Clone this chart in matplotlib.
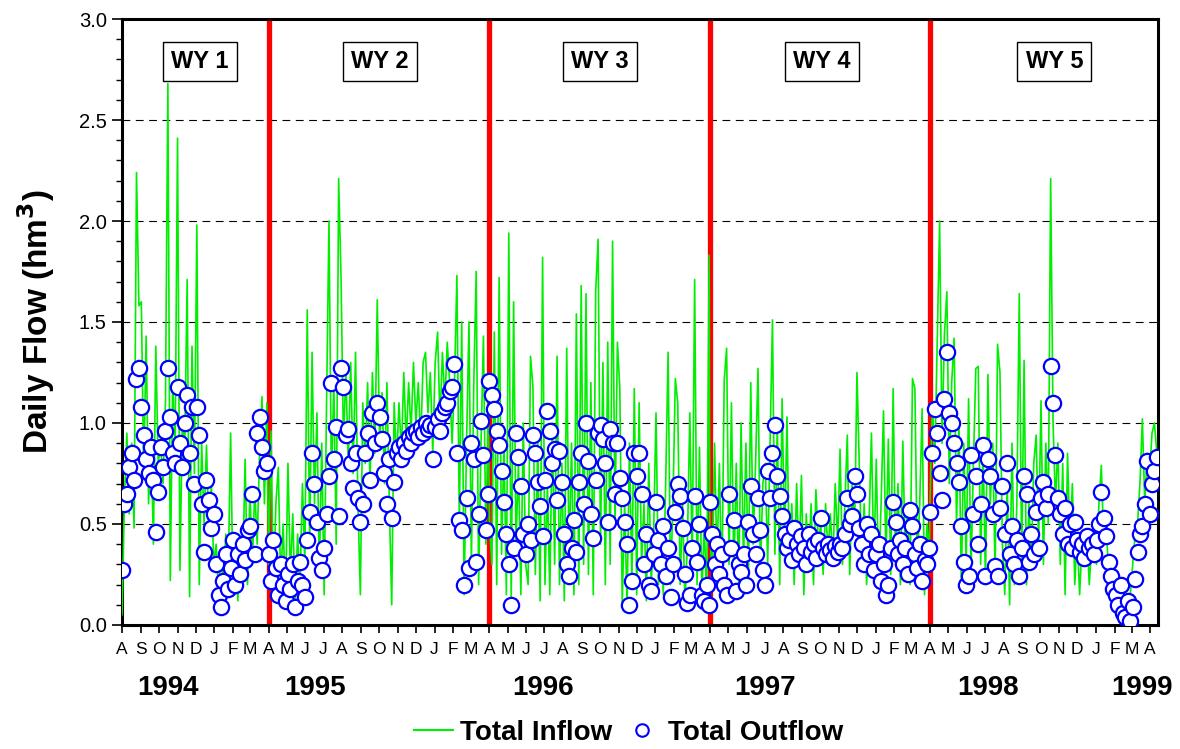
import matplotlib.pyplot as plt
import matplotlib.dates as mdates
from matplotlib.lines import Line2D
from matplotlib.ticker import MultipleLocator, FuncFormatter
import pandas as pd

plt.rcParams['font.family'] = ['Liberation Sans', 'DejaVu Sans']

# flows (hm3) sampled every 4 days, one list per water year
step_days = 4
wy_starts = ["1994-08-01", "1995-04-01", "1996-04-01", "1997-04-01", "1998-04-01"]

inflow_wy1 = [0.05, 0.62, 0.95, 0.55, 0.9, 0.48, 2.24, 1.58,
              1.6, 0.75, 1.43, 0.6, 0.95, 0.4, 1.38, 0.8,
              0.9, 0.7, 1.1, 2.68, 0.22, 1.2, 0.85,
              2.41, 0.27, 1.0, 0.9, 1.71, 0.14, 1.38, 0.75,
              1.98, 0.2, 0.9, 0.5, 0.89, 0.45, 0.7, 0.3,
              0.4, 0.15, 0.35, 0.2, 0.45, 0.25, 0.95,
              0.15, 0.3, 0.12, 0.4, 0.25, 0.82, 0.2,
              0.66, 0.3, 0.67, 0.4, 0.85, 1.13, 0.6, 1.1]
inflow_wy2 = [0.3, 0.96, 0.15, 0.6, 0.78, 0.2, 0.5, 0.12,
              0.8, 0.25, 0.55, 0.1, 0.45, 0.2, 0.7, 0.3,
              1.56, 0.4, 1.35, 0.6, 1.05, 0.25, 0.9,
              0.15, 1.1, 2.0, 0.7, 1.2, 0.4, 2.21, 1.72,
              0.9, 1.25, 0.8, 1.3, 0.75, 1.35, 0.6, 0.15,
              1.1, 0.8, 1.2, 0.7, 1.25, 0.85, 1.61,
              0.9, 1.15, 0.7, 1.2, 0.6, 0.1, 1.1, 0.8,
              1.1, 0.85, 1.25, 0.9, 1.2, 0.95, 1.3,
              1.0, 1.2, 0.9, 1.3, 1.35, 1.05, 1.25, 0.85,
              1.3, 1.45, 1.0, 1.35, 1.1, 1.4, 1.2, 0.9,
              1.2, 1.73, 0.5, 1.5, 0.15, 0.9, 1.5,
              0.3, 1.2, 1.75, 0.2, 0.9, 1.43, 0.4, 1.1]
inflow_wy3 = [0.5, 0.3, 1.45, 0.2, 1.72, 0.35, 0.9, 0.15,
              1.94, 0.1, 1.6, 0.4, 0.8, 0.15, 1.0, 0.3,
              0.2, 1.33, 1.18, 0.25, 0.9, 0.12, 1.82,
              0.2, 0.7, 0.15, 1.0, 0.3, 1.33, 0.2, 0.8,
              0.12, 1.37, 0.3, 0.9, 0.15, 1.54, 0.2, 1.68,
              0.3, 1.64, 0.25, 1.2, 0.15, 1.65, 1.91,
              0.4, 1.3, 0.2, 1.4, 0.3, 1.9, 0.5, 1.4,
              1.17, 0.1, 0.6, 0.08, 0.9, 0.2, 1.17,
              0.15, 1.1, 0.3, 0.6, 0.12, 0.8, 0.2, 0.45,
              1.05, 0.2, 0.5, 0.15, 0.7, 1.35, 0.2, 0.6,
              1.22, 1.1, 0.2, 0.6, 0.1, 0.4, 1.05,
              0.3, 1.71, 0.2, 0.88, 0.15, 0.5, 0.1, 1.83]
inflow_wy4 = [0.5, 0.2, 0.9, 0.3, 0.8, 0.15, 1.21, 1.37,
              0.3, 1.1, 0.25, 0.8, 0.2, 1.0, 0.3, 0.9,
              0.2, 1.2, 0.4, 0.8, 1.27, 0.25, 0.7,
              0.8, 0.3, 0.9, 1.51, 0.35, 1.0, 0.2, 1.12,
              0.4, 1.03, 0.3, 0.6, 0.2, 0.7, 0.3, 0.74,
              0.15, 0.55, 0.3, 0.6, 0.2, 0.67, 0.4,
              0.5, 0.25, 0.6, 0.35, 0.55, 0.3, 0.7, 0.4,
              0.87, 0.3, 0.6, 0.94, 0.25, 0.7, 0.45,
              1.25, 0.78, 0.3, 0.6, 0.2, 0.5, 0.95, 0.3,
              0.82, 0.2, 0.6, 1.06, 0.3, 0.92, 0.25, 1.17,
              0.3, 0.7, 0.2, 0.91, 0.35, 0.6, 0.2,
              1.22, 1.17, 0.3, 0.6, 1.07, 0.15, 0.5, 0.35]
inflow_wy5 = [0.6, 1.1, 0.8, 1.39, 2.0, 0.9, 1.44, 1.65,
              0.7, 1.2, 1.42, 0.5, 1.0, 0.2, 0.9, 0.3,
              1.12, 0.25, 0.8, 1.27, 1.28, 0.3, 0.9,
              0.2, 1.24, 0.6, 0.9, 0.25, 1.39, 1.25, 0.4,
              0.15, 0.7, 0.1, 0.9, 0.2, 0.6, 1.64, 0.3,
              1.31, 0.2, 0.6, 0.3, 0.8, 0.94, 0.4,
              1.11, 0.3, 0.9, 0.5, 2.21, 1.0, 0.6, 0.9,
              0.3, 0.8, 0.15, 0.85, 0.4, 0.7, 0.2,
              0.45, 0.15, 0.4, 0.3, 0.45, 0.2, 0.4, 0.35,
              0.3, 0.6, 0.79, 0.4, 0.5, 0.25, 0.3, 0.2,
              0.15, 0.1, 0.2, 0.05, 0.12, 0.08, 0.15,
              0.3, 0.45, 0.5, 0.7, 1.02, 0.6, 0.85, 0.75,
              0.95, 1.0, 0.85]

outflow_wy1 = [0.27, 0.6, 0.65, 0.78, 0.85, 0.72, 1.22, 1.27,
               1.08, 0.94, 0.82, 0.75, 0.88, 0.72, 0.46, 0.66,
               0.88, 0.78, 0.96, 1.27, 1.03, 0.85, 0.8,
               1.18, 0.9, 0.78, 1.0, 1.14, 0.85, 1.08, 0.7,
               1.08, 0.94, 0.6, 0.36, 0.72, 0.62, 0.48, 0.55,
               0.3, 0.15, 0.09, 0.22, 0.35, 0.18, 0.28,
               0.42, 0.2, 0.35, 0.25, 0.4, 0.32, 0.47,
               0.49, 0.65, 0.35, 0.95, 1.03, 0.88, 0.76, 0.8]
outflow_wy2 = [0.35, 0.22, 0.42, 0.28, 0.15, 0.3, 0.2, 0.12,
               0.25, 0.18, 0.3, 0.09, 0.22, 0.31, 0.2, 0.14,
               0.42, 0.56, 0.85, 0.7, 0.51, 0.33, 0.27,
               0.38, 0.55, 0.74, 1.2, 0.82, 0.98, 0.54, 1.27,
               1.18, 0.94, 0.97, 0.8, 0.68, 0.85, 0.63, 0.51,
               0.6, 0.85, 0.95, 0.72, 1.05, 0.9, 1.1,
               1.03, 0.92, 0.75, 0.6, 0.82, 0.53, 0.71, 0.85,
               0.88, 0.82, 0.9, 0.86, 0.93, 0.9, 0.95,
               0.96, 0.93, 0.98, 0.95, 1.0, 0.97, 0.99, 0.82,
               0.98, 1.02, 0.96, 1.05, 1.08, 1.1, 1.16, 1.18,
               1.29, 0.85, 0.52, 0.47, 0.2, 0.63, 0.28,
               0.9, 0.82, 0.31, 0.55, 1.01, 0.84, 0.47, 0.65]
outflow_wy3 = [1.21, 1.14, 1.07, 0.96, 0.89, 0.76, 0.61, 0.45,
               0.3, 0.1, 0.38, 0.95, 0.83, 0.69, 0.45, 0.35,
               0.5, 0.42, 0.94, 0.85, 0.71, 0.59, 0.44,
               0.72, 1.06, 0.96, 0.8, 0.87, 0.62, 0.86, 0.71,
               0.45, 0.3, 0.24, 0.38, 0.52, 0.36, 0.71, 0.85,
               0.6, 1.0, 0.81, 0.55, 0.43, 0.72, 0.95,
               0.99, 0.92, 0.8, 0.51, 0.97, 0.9, 0.65, 0.9,
               0.73, 0.63, 0.51, 0.4, 0.1, 0.22, 0.85,
               0.74, 0.85, 0.65, 0.3, 0.45, 0.2, 0.17, 0.35,
               0.61, 0.42, 0.3, 0.49, 0.24, 0.38, 0.14, 0.3,
               0.56, 0.7, 0.64, 0.48, 0.25, 0.11, 0.15,
               0.38, 0.64, 0.31, 0.5, 0.15, 0.12, 0.2, 0.1]
outflow_wy4 = [0.61, 0.45, 0.3, 0.4, 0.25, 0.35, 0.2, 0.15,
               0.65, 0.38, 0.52, 0.17, 0.3, 0.26, 0.35, 0.2,
               0.51, 0.69, 0.45, 0.35, 0.63, 0.47, 0.27,
               0.2, 0.76, 0.63, 0.85, 0.99, 0.74, 0.64, 0.54,
               0.45, 0.38, 0.42, 0.32, 0.48, 0.4, 0.35, 0.44,
               0.38, 0.3, 0.45, 0.36, 0.4, 0.33, 0.42,
               0.53, 0.38, 0.35, 0.4, 0.37, 0.33, 0.39, 0.36,
               0.4, 0.38, 0.45, 0.63, 0.5, 0.54, 0.74,
               0.65, 0.48, 0.4, 0.3, 0.5, 0.35, 0.45, 0.27,
               0.35, 0.4, 0.22, 0.3, 0.15, 0.2, 0.38, 0.61,
               0.51, 0.35, 0.42, 0.3, 0.38, 0.25, 0.57,
               0.49, 0.35, 0.28, 0.4, 0.22, 0.32, 0.3, 0.38]
outflow_wy5 = [0.56, 0.85, 1.07, 0.95, 0.75, 0.62, 1.12, 1.35,
               1.05, 1.0, 0.9, 0.8, 0.71, 0.49, 0.31, 0.2,
               0.24, 0.84, 0.55, 0.74, 0.4, 0.6, 0.89,
               0.24, 0.82, 0.74, 0.55, 0.29, 0.24, 0.58, 0.69,
               0.45, 0.8, 0.35, 0.49, 0.3, 0.42, 0.24, 0.38,
               0.74, 0.65, 0.31, 0.45, 0.35, 0.56, 0.38,
               0.63, 0.71, 0.58, 0.65, 1.28, 1.1, 0.84, 0.63,
               0.55, 0.45, 0.58, 0.4, 0.5, 0.38, 0.51,
               0.42, 0.36, 0.4, 0.33, 0.44, 0.38, 0.4, 0.35,
               0.42, 0.5, 0.66, 0.53, 0.44, 0.31, 0.24, 0.18,
               0.15, 0.1, 0.2, 0.06, 0.04, 0.12, 0.02,
               0.09, 0.23, 0.36, 0.45, 0.49, 0.6, 0.81, 0.55,
               0.7, 0.76, 0.83]

inflows = [inflow_wy1, inflow_wy2, inflow_wy3, inflow_wy4, inflow_wy5]
outflows = [outflow_wy1, outflow_wy2, outflow_wy3, outflow_wy4, outflow_wy5]

wy_names = ["WY 1", "WY 2", "WY 3", "WY 4", "WY 5"]
wy_label_dates = ["1994-12-08", "1995-10-03", "1996-10-01", "1997-10-04", "1998-10-24"]
wy_breaks = ["1995-04-01", "1996-04-01", "1997-04-01", "1998-04-01"]
year_labels = ["1994", "1995", "1996", "1997", "1998", "1999"]
year_label_dates = ["1994-10-16", "1995-06-17", "1996-06-29", "1997-07-02", "1998-07-06", "1999-03-19"]

# build one continuous time axis from the water-year pieces
dates, inflow, outflow = [], [], []
for start, qin, qout in zip(wy_starts, inflows, outflows):
    d = pd.date_range(start, periods=len(qin), freq=f"{step_days}D")
    dates.extend(d)
    inflow.extend(qin)
    outflow.extend(qout)

fig = plt.figure(figsize=(11.8, 7.49), dpi=100)
ax = fig.add_axes([0.1034, 0.1656, 0.8780, 0.8090])

for y in [0.5, 1.0, 1.5, 2.0, 2.5]:
    ax.axhline(y, color="black", lw=0.8, dashes=(7, 5), zorder=1)

for b in wy_breaks:
    ax.axvline(pd.Timestamp(b), color="#ff0000", lw=3.8, zorder=2)

ax.plot(dates, inflow, color="#00ee00", lw=1.2, zorder=3)
ax.plot(dates, outflow, "o", mfc="white", mec="#0000ff", ms=11, mew=1.6, zorder=4)

for name, d in zip(wy_names, wy_label_dates):
    ax.text(pd.Timestamp(d), 2.79, name, ha="center", va="center",
            fontsize=17, fontweight="bold", zorder=5,
            bbox=dict(boxstyle="square,pad=0.35", fc="white", ec="black", lw=1.0))

for label, d in zip(year_labels, year_label_dates):
    ax.text(pd.Timestamp(d), -0.104, label, ha="center", va="center",
            fontsize=20, fontweight="bold",
            transform=ax.get_xaxis_transform(), clip_on=False)

ax.set_xlim(pd.Timestamp("1994-08-01"), pd.Timestamp("1999-04-14"))
ax.set_ylim(0, 3.0)

ax.xaxis.set_major_locator(mdates.MonthLocator())
ax.xaxis.set_major_formatter(
    FuncFormatter(lambda x, pos: mdates.num2date(x).strftime("%b")[0]))
ax.yaxis.set_major_locator(MultipleLocator(0.5))
ax.yaxis.set_minor_locator(MultipleLocator(0.1))
ax.yaxis.set_major_formatter(FuncFormatter(lambda v, pos: f"{v:.1f}"))

ax.tick_params(axis="x", direction="out", length=6, width=1.2, labelsize=12.5, pad=6)
ax.tick_params(axis="y", which="major", direction="out", length=7, width=1.2,
               labelsize=14.5, pad=4)
ax.tick_params(axis="y", which="minor", direction="out", length=4, width=1.0)
ax.tick_params(top=False, right=False, which="both")

for side in ["left", "bottom", "top", "right"]:
    ax.spines[side].set_linewidth(2.2)

ax.set_ylabel("Daily Flow (hm$^{\\mathbf{3}}$)", fontsize=24, fontweight="bold", labelpad=16)

handles = [Line2D([], [], color="#00ee00", lw=1.5),
           Line2D([], [], ls="none", marker="o", mfc="white", mec="#0000ff", ms=9, mew=1.5)]
fig.legend(handles, ["Total Inflow", "Total Outflow"], loc="center",
           bbox_to_anchor=(0.533, 0.022), ncol=2, frameon=False,
           prop=dict(size=20, weight="bold"), handlelength=1.4,
           handletextpad=0.25, columnspacing=0.35)

fig.savefig("out.png", dpi=100)
